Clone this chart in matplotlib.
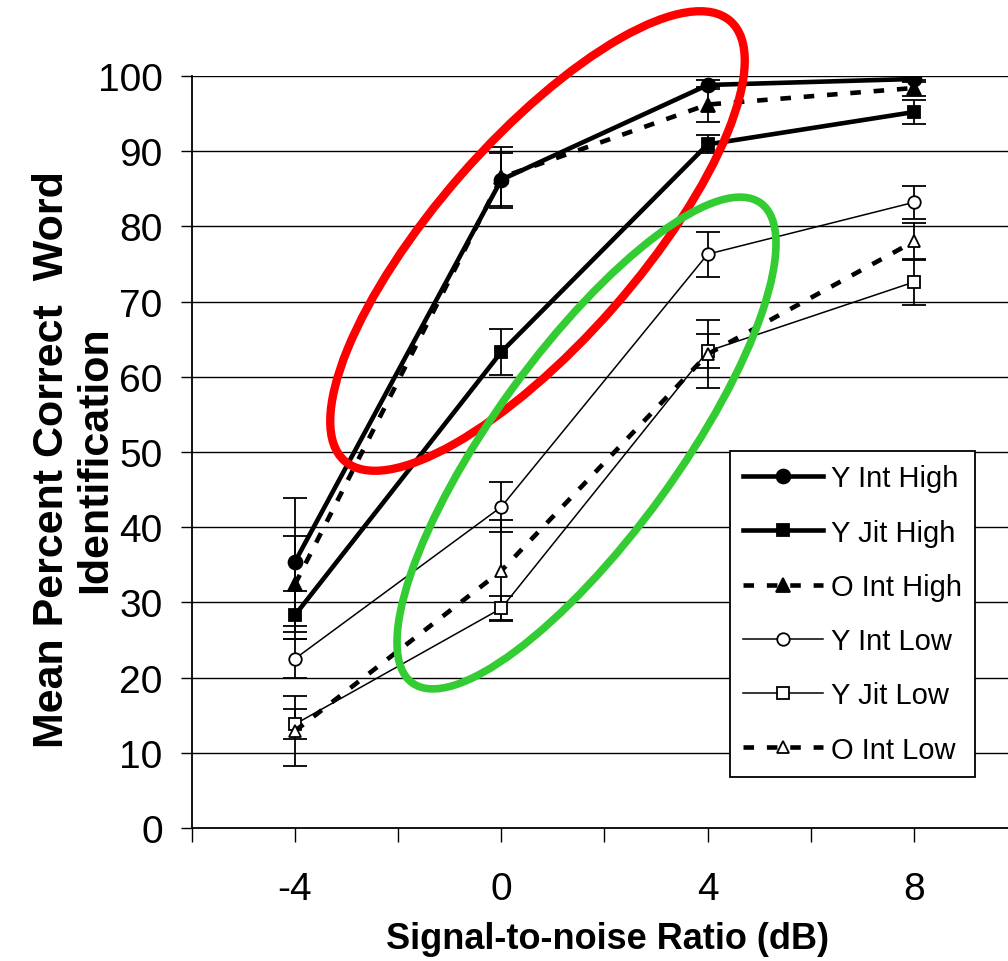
import matplotlib
matplotlib.use("Agg")
import matplotlib.pyplot as plt
from matplotlib.patches import Ellipse
from matplotlib.transforms import IdentityTransform

# data
snr = [-4, 0, 4, 8]

y_int_high = [35.4, 86.2, 98.8, 99.6]
y_int_high_err = [8.5, 3.5, 0.6, 0.4]

y_jit_high = [28.3, 63.3, 90.9, 95.2]
y_jit_high_err = [3.2, 3.0, 1.2, 1.6]

o_int_high = [32.4, 86.5, 96.2, 98.4]
o_int_high_err = [6.4, 4.0, 2.3, 1.0]

y_int_low = [22.5, 42.7, 76.3, 83.2]
y_int_low_err = [2.6, 3.3, 3.0, 2.2]

y_jit_low = [13.8, 29.2, 63.4, 72.6]
y_jit_low_err = [2.0, 1.6, 2.3, 3.1]

o_int_low = [12.9, 34.2, 63.0, 78.0]
o_int_low_err = [4.6, 6.7, 4.5, 2.5]

yticks = list(range(0, 101, 10))
xtick_labels = ['', '-4', '', '0', '', '4', '', '8', '']

plt.rcParams['font.family'] = ['Liberation Sans', 'DejaVu Sans']

fig = plt.figure(figsize=(10.08, 9.62), dpi=100)
ax = fig.add_axes([0.1903, 0.1383, 0.8188, 0.7817])

series = [
    ('Y Int High', y_int_high, y_int_high_err, 'o', 'black', '-', 3.3, 10),
    ('Y Jit High', y_jit_high, y_jit_high_err, 's', 'black', '-', 3.3, 9),
    ('O Int High', o_int_high, o_int_high_err, '^', 'black', (0, (2.3, 2.8)), 3.3, 10),
    ('Y Int Low', y_int_low, y_int_low_err, 'o', 'white', '-', 1.1, 9),
    ('Y Jit Low', y_jit_low, y_jit_low_err, 's', 'white', '-', 1.1, 9),
    ('O Int Low', o_int_low, o_int_low_err, '^', 'white', (0, (2.3, 2.8)), 3.3, 9),
]

handles = []
for name, vals, err, mk, fc, ls, lw, ms in series:
    ax.errorbar(snr, vals, yerr=err, fmt='none', ecolor='black',
                elinewidth=1.3, capsize=8.5, capthick=1.3, zorder=2)
    line, = ax.plot(snr, vals, color='black', linestyle=ls, linewidth=lw,
                    marker=mk, markersize=ms, markerfacecolor=fc,
                    markeredgecolor='black', markeredgewidth=1.3,
                    label=name, zorder=3)
    handles.append(line)

ax.set_xlim(-6, 10)
ax.set_ylim(0, 100)
ax.set_yticks(yticks)
ax.set_xticks(range(-6, 11, 2))
ax.set_xticklabels(xtick_labels)
ax.tick_params(axis='y', direction='out', length=8, width=1, labelsize=28, pad=13)
ax.tick_params(axis='x', direction='out', length=10, width=1, labelsize=28, pad=21)
for gy in yticks[1:]:
    ax.axhline(gy, color='black', linewidth=1.0, zorder=1)

for side in ['top', 'right']:
    ax.spines[side].set_visible(False)
ax.spines['left'].set_linewidth(1.3)
ax.spines['bottom'].set_linewidth(1.3)

# axis titles placed at their pixel spots
fig.text(608 / 1008, (962 - 940) / 962, 'Signal-to-noise Ratio (dB)',
         fontsize=26, fontweight='bold', ha='center', va='center')
fig.text(74 / 1008, (962 - 460) / 962, 'Mean Percent Correct  Word\nIdentification',
         fontsize=31, fontweight='bold', rotation=90, ha='center', va='center',
         linespacing=1.1)

leg = ax.legend(handles=handles, loc='upper left', bbox_to_anchor=(0.652, 0.501),
                frameon=True, fancybox=False, framealpha=1, edgecolor='black',
                prop={'size': 21}, handlelength=2.75,
                handletextpad=0.25, labelspacing=0.9, borderpad=0.45,
                borderaxespad=0)
leg.get_frame().set_linewidth(1.3)
leg.set_zorder(5)

# highlighted groups (pixel positions, y measured from the bottom)
red = Ellipse((537.5, 720), 585, 202, angle=48.75, fill=False,
              edgecolor='#ff0000', linewidth=6, transform=IdentityTransform(), zorder=10)
green = Ellipse((586.5, 518), 593, 184, angle=54, fill=False,
                edgecolor='#33cc33', linewidth=5.5, transform=IdentityTransform(), zorder=10)
fig.add_artist(red)
fig.add_artist(green)

fig.savefig('out.png', dpi=100)
